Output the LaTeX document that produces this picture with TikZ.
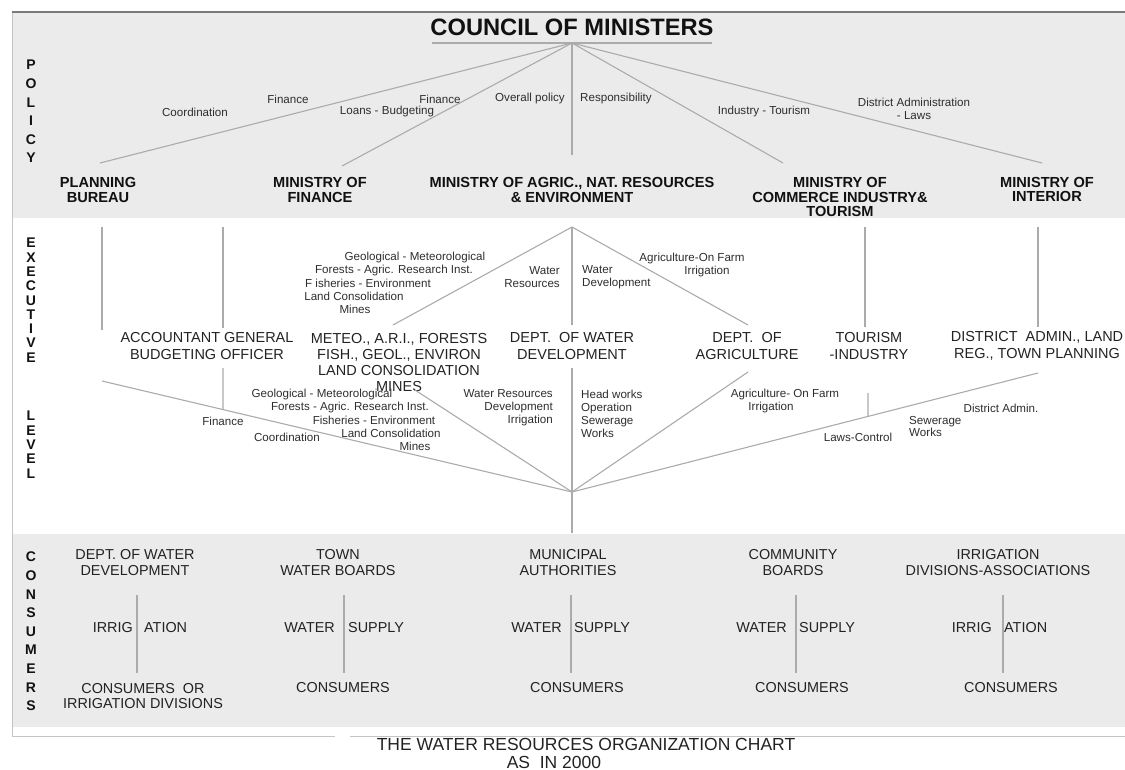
\documentclass[tikz,border=0pt]{standalone}
\usepackage{fontspec}
\setmainfont{Liberation Sans}
\usetikzlibrary{calc}
\definecolor{band}{HTML}{EBEBEB}
\definecolor{ln}{HTML}{ABABAB}
\definecolor{framec}{HTML}{7A7A7A}
\definecolor{edgec}{HTML}{C4C4C4}
\definecolor{txt}{HTML}{222222}
\definecolor{btxt}{HTML}{111111}
\definecolor{ltxt}{HTML}{2E2E2E}
\begin{document}
\begin{tikzpicture}[x=1pt,y=-1pt,
  conn/.style={draw=ln,line width=1.1pt},
  council/.style={font=\bfseries\fontsize{23.7}{26}\selectfont,text=btxt,inner sep=0pt},
  mini/.style={font=\bfseries\fontsize{14.6}{14.6}\selectfont,text=btxt,align=center,inner sep=0pt},
  side/.style={font=\bfseries\fontsize{14}{18.6}\selectfont,text=btxt,align=center,inner sep=0pt},
  exec/.style={font=\fontsize{14.5}{16.3}\selectfont,text=txt,align=center,inner sep=0pt},
  cons/.style={font=\fontsize{14.4}{15.2}\selectfont,text=txt,align=center,inner sep=0pt},
  lab/.style={font=\fontsize{11.6}{12.9}\selectfont,text=ltxt,inner sep=0pt},
  ttl/.style={font=\fontsize{17.5}{19}\selectfont,text=txt,inner sep=0pt}]
\useasboundingbox (0,0) rectangle (1125,770);
% bands and frame
\fill[band] (12,12) rectangle (1125,218);
\fill[band] (12,534) rectangle (1125,727);
\draw[edgec,line width=1pt] (12,12) -- (12,736);
\draw[edgec,line width=1pt] (12,736) -- (335,736);
\draw[edgec,line width=1pt] (350,736) -- (1125,736);
\draw[framec,line width=1.8pt] (12,12) -- (1125,12);

% side labels
\node[side] (sp) at (31,111.5) {P\\O\\L\\I\\C\\Y};
\node[side,font=\bfseries\fontsize{14}{14.3}\selectfont] (se) at (31,358.1) {E\\X\\E\\C\\U\\T\\I\\V\\E\\[44.3pt]L\\E\\V\\E\\L};
\node[side] (sc) at (31,631.5) {C\\O\\N\\S\\U\\M\\E\\R\\S};

% council
\node[council] (cm) at (572,27) {COUNCIL OF MINISTERS};
\coordinate (cmL) at (432,43);
\coordinate (cmR) at (712,43);
\coordinate (apex) at (572,43);
\draw[conn] (cmL) -- (cmR);

% ministries
\node[mini] (pb) at (98,190) {PLANNING\\BUREAU};
\node[mini] (mf) at (320,190) {MINISTRY OF\\FINANCE};
\node[mini] (ma) at (572,190) {MINISTRY OF AGRIC., NAT. RESOURCES\\\& ENVIRONMENT};
\node[mini] (mc) at (840,197) {MINISTRY OF\\COMMERCE INDUSTRY\&\\TOURISM};
\node[mini] (mi) at (1047,189.5) {MINISTRY OF\\INTERIOR};

\coordinate (pbT) at (100,163);
\coordinate (mfT) at (342,166);
\coordinate (maT) at (572,155);
\coordinate (mcT) at (783,163);
\coordinate (miT) at (1042,163);
\draw[conn] (apex) -- (pbT);
\draw[conn] (apex) -- (mfT);
\draw[conn] (apex) -- (maT);
\draw[conn] (apex) -- (mcT);
\draw[conn] (apex) -- (miT);

% policy labels
\node[lab] (l1) at (195,112) {Coordination};
\node[lab] (l2) at (288,99) {Finance};
\node[lab] (l3) at (387,112) {Loans - Budgeting};
\node[lab] (l4) at (440,99) {Finance};
\node[lab] (l5) at (530,99) {Overall policy};
\node[lab] (l6) at (616,99) {Responsibility};
\node[lab] (l7) at (764,112) {Industry - Tourism};
\node[lab,align=center] (l8) at (914,108.5) {District Administration\\- Laws};

% executive nodes
\node[exec] (ag) at (207,346) {ACCOUNTANT GENERAL\\BUDGETING OFFICER};
\node[exec] (me) at (399,362.5) {METEO., A.R.I., FORESTS\\FISH., GEOL., ENVIRON\\LAND CONSOLIDATION\\MINES};
\node[exec] (wd) at (572,346) {DEPT.\ \ OF WATER\\DEVELOPMENT};
\node[exec] (da) at (747,346) {DEPT.\ \ OF\\AGRICULTURE};
\node[exec] (ti) at (869,346) {TOURISM\\-INDUSTRY};
\node[exec] (dl) at (1037,346) {DISTRICT\ \ ADMIN., LAND\\REG., TOWN PLANNING};

% executive upper connectors
\coordinate (pbB) at (102,227); \coordinate (pbX) at (102,330);
\coordinate (mfB) at (223,227); \coordinate (mfX) at (223,328);
\coordinate (maB) at (572,227);
\coordinate (meT) at (393,325); \coordinate (wdT) at (572,325); \coordinate (daT) at (748,325);
\coordinate (mcB) at (865,227); \coordinate (tiT) at (865,327);
\coordinate (miB) at (1038,227); \coordinate (dlT) at (1038,327);
\draw[conn] (pbB) -- (pbX);
\draw[conn] (mfB) -- (mfX);
\draw[conn] (maB) -- (meT);
\draw[conn] (maB) -- (wdT);
\draw[conn] (maB) -- (daT);
\draw[conn] (mcB) -- (tiT);
\draw[conn] (miB) -- (dlT);

% labels above executive nodes
\node[lab] (g1) at (415,258) {Geological - Meteorological};
\node[lab] (g2) at (394,271) {Forests - Agric. Research Inst.};
\node[lab] (g3) at (368,283.5) {F isheries - Environment};
\node[lab] (g4) at (354,296) {Land Consolidation};
\node[lab] (g5) at (355,309) {Mines};
\node[lab,align=right,anchor=east] (wr) at (560,277.5) {Water\\Resources};
\node[lab,align=left,anchor=west] (wv) at (582,277.5) {Water\\Development};
\node[lab] (af1) at (692,259) {Agriculture-On Farm};
\node[lab] (af2) at (707,272) {Irrigation};

% lower connectors to hub
\coordinate (hub) at (572,492);
\coordinate (pbL) at (102,381);
\coordinate (meB) at (415,390);
\coordinate (wdB) at (572,368);
\coordinate (daB) at (748,372);
\coordinate (dlB) at (1038,373);
\coordinate (consT) at (572,533);
\coordinate (agB) at (223,368);
\coordinate (tiB) at (868,393);
\draw[conn] (pbL) -- (hub);
\draw[conn] (meB) -- (hub);
\draw[conn] (wdB) -- (consT);
\draw[conn] (daB) -- (hub);
\draw[conn] (dlB) -- (hub);
\draw[conn] (agB) -- ($(pbL)!0.2574!(hub)$);
\draw[conn] (tiB) -- ($(dlB)!0.3648!(hub)$);

% labels below executive nodes
\node[lab] (b1) at (223,421) {Finance};
\node[lab] (b2) at (287,437) {Coordination};
\node[lab] (h1) at (322,394) {Geological - Meteorological};
\node[lab] (h2) at (350,407) {Forests - Agric. Research Inst.};
\node[lab] (h3) at (374,420) {Fisheries - Environment};
\node[lab] (h4) at (391,433) {Land Consolidation};
\node[lab] (h5) at (415,446) {Mines};
\node[lab,align=right,anchor=east] (wrd) at (553,408) {Water Resources\\Development\\Irrigation};
\node[lab,align=left,anchor=west] (hw) at (581,414) {Head works\\Operation\\Sewerage\\Works};
\node[lab] (ao1) at (785,394) {Agriculture- On Farm};
\node[lab] (ao2) at (771,407) {Irrigation};
\node[lab] (dad) at (1001,408) {District Admin.};
\node[lab,align=left,anchor=west] (sw) at (909,426.5) {Sewerage\\Works};
\node[lab] (lc) at (858,437) {Laws-Control};

% consumers
\node[cons] (c1h) at (135,562.5) {DEPT. OF WATER\\DEVELOPMENT};
\node[cons] (c2h) at (338,562.5) {TOWN\\WATER BOARDS};
\node[cons] (c3h) at (568,562.5) {MUNICIPAL\\AUTHORITIES};
\node[cons] (c4h) at (793,562.5) {COMMUNITY\\BOARDS};
\node[cons] (c5h) at (998,562.5) {IRRIGATION\\DIVISIONS-ASSOCIATIONS};

\node[cons,anchor=east] (c1l) at (133,628) {IRRIG};
\node[cons,anchor=west] (c1r) at (144,628) {ATION};
\node[cons,anchor=east] (c2l) at (335,628) {WATER};
\node[cons,anchor=west] (c2r) at (348,628) {SUPPLY};
\node[cons,anchor=east] (c3l) at (562,628) {WATER};
\node[cons,anchor=west] (c3r) at (574,628) {SUPPLY};
\node[cons,anchor=east] (c4l) at (787,628) {WATER};
\node[cons,anchor=west] (c4r) at (799,628) {SUPPLY};
\node[cons,anchor=east] (c5l) at (992,628) {IRRIG};
\node[cons,anchor=west] (c5r) at (1004,628) {ATION};

\node[cons] (c1b) at (143,696) {CONSUMERS\ \ OR\\IRRIGATION DIVISIONS};
\node[cons] (c2b) at (343,688) {CONSUMERS};
\node[cons] (c3b) at (577,688) {CONSUMERS};
\node[cons] (c4b) at (802,688) {CONSUMERS};
\node[cons] (c5b) at (1011,688) {CONSUMERS};

\coordinate (v1t) at (137,595); \coordinate (v1b) at (137,673);
\coordinate (v2t) at (344,595); \coordinate (v2b) at (344,673);
\coordinate (v3t) at (571,595); \coordinate (v3b) at (571,673);
\coordinate (v4t) at (796,595); \coordinate (v4b) at (796,673);
\coordinate (v5t) at (1003,595); \coordinate (v5b) at (1003,673);
\draw[conn] (v1t) -- (v1b);
\draw[conn] (v2t) -- (v2b);
\draw[conn] (v3t) -- (v3b);
\draw[conn] (v4t) -- (v4b);
\draw[conn] (v5t) -- (v5b);

% title
\node[ttl] (t1) at (586,744) {THE WATER RESOURCES ORGANIZATION CHART};
\node[ttl] (t2) at (554,762) {AS\ \ IN 2000};
\end{tikzpicture}
\end{document}
